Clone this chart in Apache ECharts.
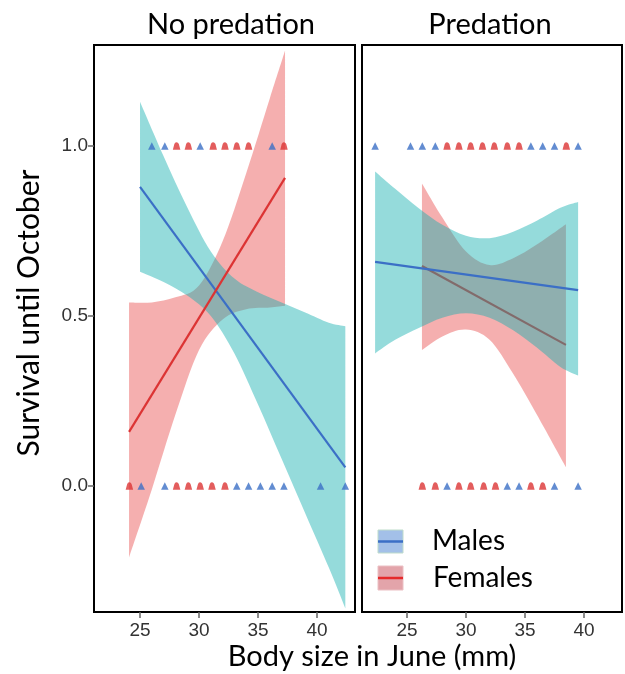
<!DOCTYPE html>
<html><head><meta charset="utf-8">
<script src="https://cdn.jsdelivr.net/npm/echarts@6/dist/echarts.min.js"></script>
<style>html,body{margin:0;padding:0;background:#fff}#c{width:625px;height:674px}</style>
</head><body><div id="c"></div>
<script>
// ---- Data ----
const panels = ['No predation', 'Predation'];
const xTicks = [25, 30, 35, 40];
const yTicks = [0, 0.5, 1.0];
const legendNames = ['Males', 'Females'];
const xTitle = 'Body size in June (mm)';
const yTitle = 'Survival until October';

// individual observations (survived = 1, died = 0)
const npMaleAlive = [26.0, 27.1, 30.1, 36.2];
const npFemaleAlive = [28.1, 29.1, 31.2, 32.2, 33.2, 34.2, 37.2];
const npMaleDead = [25.1, 27.1, 33.2, 34.2, 35.2, 36.2, 37.2, 40.3, 42.4];
const npFemaleDead = [24.1, 28.1, 29.1, 30.1, 31.1, 32.2];

const pMaleAlive = [22.3, 25.3, 26.3, 27.4, 35.5, 36.5, 37.5, 39.5];
const pFemaleAlive = [28.4, 29.4, 30.4, 31.4, 32.4, 33.5, 34.5, 38.5];
const pMaleDead = [28.4, 33.5, 34.5, 37.5, 39.5];
const pFemaleDead = [26.3, 27.4, 29.4, 30.4, 31.5, 32.5, 35.5, 36.5];

// fitted lines
const npMaleLine = [[25.0, 0.88], [42.4, 0.055]];
const npFemaleLine = [[24.07, 0.159], [37.29, 0.906]];
const pMaleLine = [[22.3, 0.659], [39.5, 0.576]];
const pFemaleLine = [[26.27, 0.647], [38.47, 0.415]];

// confidence bands
const npMaleBandX = [25, 27, 29, 31, 33, 35, 37, 39, 41, 42.4];
const npMaleBandLo = [0.63, 0.60, 0.56, 0.50, 0.39, 0.24, 0.08, -0.08, -0.24, -0.36];
const npMaleBandHi = [1.13, 0.97, 0.82, 0.69, 0.61, 0.57, 0.54, 0.51, 0.48, 0.47];

const npFemaleBandX = [24.07, 26, 28, 30, 32, 34, 36, 37.29];
const npFemaleBandLo = [-0.21, -0.01, 0.21, 0.40, 0.49, 0.52, 0.525, 0.53];
const npFemaleBandHi = [0.54, 0.54, 0.555, 0.59, 0.72, 0.92, 1.14, 1.28];

const pMaleBandX = [22.3, 24, 26, 28, 30, 32, 34, 36, 38, 39.5];
const pMaleBandLo = [0.39, 0.43, 0.465, 0.495, 0.508, 0.495, 0.458, 0.407, 0.35, 0.325];
const pMaleBandHi = [0.925, 0.874, 0.817, 0.768, 0.736, 0.729, 0.748, 0.78, 0.818, 0.835];

const pFemaleBandX = [26.27, 28, 30, 32, 34, 36, 38.47];
const pFemaleBandLo = [0.40, 0.44, 0.46, 0.43, 0.33, 0.21, 0.055];
const pFemaleBandHi = [0.89, 0.79, 0.69, 0.65, 0.67, 0.71, 0.77];

// ---- Styles ----
const MALE = '#3B6FC6', FEMALE = '#DC3434';
const MALE_BAND = 'rgba(20,175,175,0.45)', FEMALE_BAND = 'rgba(235,95,95,0.5)';
const FONT = 'Lato, "Open Sans", sans-serif';
const DOME = 'path://M0,10 L2,3.8 A3.2,3.2 0 0 1 8,3.8 L10,10 Z';

function band(xs, lo, hi, color, idx, z) {
  return {
    type: 'custom', xAxisIndex: idx, yAxisIndex: idx, z: z, silent: true,
    data: xs.map((x, i) => [x, lo[i], hi[i]]),
    encode: { x: 0, y: [1, 2] },
    renderItem: function (params, api) {
      if (params.dataIndex !== 0) return;
      const up = [], dn = [];
      for (let i = 0; i < xs.length; i++) up.push(api.coord([xs[i], hi[i]]));
      for (let i = xs.length - 1; i >= 0; i--) dn.push(api.coord([xs[i], lo[i]]));
      const cs = params.coordSys;
      const curve = (p, first) => {
        let s = (first ? 'M' : 'L') + p[0][0] + ',' + p[0][1];
        for (let i = 0; i < p.length - 1; i++) {
          const p0 = p[i - 1] || p[i], p1 = p[i], p2 = p[i + 1], p3 = p[i + 2] || p[i + 1];
          const c1 = [p1[0] + (p2[0] - p0[0]) / 6, p1[1] + (p2[1] - p0[1]) / 6];
          const c2 = [p2[0] - (p3[0] - p1[0]) / 6, p2[1] - (p3[1] - p1[1]) / 6];
          s += 'C' + c1[0] + ',' + c1[1] + ' ' + c2[0] + ',' + c2[1] + ' ' + p2[0] + ',' + p2[1];
        }
        return s;
      };
      const d = curve(up, true) + curve(dn, false) + 'Z';
      return {
        type: 'group',
        clipPath: { type: 'rect', shape: { x: cs.x, y: cs.y, width: cs.width, height: cs.height } },
        children: [{ type: 'path', shape: { pathData: d }, style: { fill: color } }]
      };
    }
  };
}
function line(data, color, idx, z) {
  return { type: 'line', xAxisIndex: idx, yAxisIndex: idx, data: data, showSymbol: false, z: z,
    lineStyle: { color: color, width: 2.2 }, silent: true };
}
function pts(xs, yv, sym, color, idx) {
  return { type: 'scatter', xAxisIndex: idx, yAxisIndex: idx, data: xs.map(x => [x, yv]),
    symbol: sym, symbolSize: 7.5, itemStyle: { color: color }, z: 10, silent: true };
}
function xAxis(idx, min) {
  return { type: 'value', gridIndex: idx, min: min, max: 43.22, position: 'bottom',
    axisLine: { show: false, onZero: false }, splitLine: { show: false },
    axisTick: { show: true, customValues: xTicks, length: 6, lineStyle: { color: '#666', width: 1.5 } },
    axisLabel: { customValues: xTicks, fontSize: 19, color: '#333', fontFamily: '"Liberation Sans", Arial', margin: 9 } };
}
function yAxis(idx) {
  return { type: 'value', gridIndex: idx, min: -0.3706, max: 1.297, position: 'left',
    axisLine: { show: false, onZero: false }, splitLine: { show: false },
    axisTick: { show: idx === 0, customValues: yTicks, length: 6, lineStyle: { color: '#666', width: 1.5 } },
    axisLabel: { show: idx === 0, customValues: yTicks, fontSize: 19, color: '#333',
      fontFamily: '"Liberation Sans", Arial', margin: 6, formatter: v => v.toFixed(1) } };
}

const chart = echarts.init(document.getElementById('c'), null, { renderer: 'canvas' });
chart.setOption({
  animation: false,
  backgroundColor: '#fff',
  grid: [
    { left: 94, top: 45, width: 261, height: 567, show: true, borderColor: '#000', borderWidth: 2 },
    { left: 362, top: 45, width: 260, height: 567, show: true, borderColor: '#000', borderWidth: 2 }
  ],
  xAxis: [xAxis(0, 21.1), xAxis(1, 21.19)],
  yAxis: [yAxis(0), yAxis(1)],
  series: [
    band(npFemaleBandX, npFemaleBandLo, npFemaleBandHi, FEMALE_BAND, 0, 1),
    band(npMaleBandX, npMaleBandLo, npMaleBandHi, MALE_BAND, 0, 2),
    line(npMaleLine, MALE, 0, 5),
    line(npFemaleLine, FEMALE, 0, 5),
    pts(npMaleAlive, 1, 'triangle', MALE, 0),
    pts(npMaleDead, 0, 'triangle', MALE, 0),
    pts(npFemaleAlive, 1, DOME, FEMALE, 0),
    pts(npFemaleDead, 0, DOME, FEMALE, 0),

    band(pFemaleBandX, pFemaleBandLo, pFemaleBandHi, FEMALE_BAND, 1, 1),
    line(pFemaleLine, FEMALE, 1, 2),
    band(pMaleBandX, pMaleBandLo, pMaleBandHi, MALE_BAND, 1, 3),
    line(pMaleLine, MALE, 1, 5),
    pts(pMaleAlive, 1, 'triangle', MALE, 1),
    pts(pMaleDead, 0, 'triangle', MALE, 1),
    pts(pFemaleAlive, 1, DOME, FEMALE, 1),
    pts(pFemaleDead, 0, DOME, FEMALE, 1)
  ],
  graphic: [
    { type: 'text', x: 231, y: 25, style: { text: panels[0], font: '29px ' + FONT, fill: '#000', align: 'center', verticalAlign: 'middle' } },
    { type: 'text', x: 490, y: 25, style: { text: panels[1], font: '29px ' + FONT, fill: '#000', align: 'center', verticalAlign: 'middle' } },
    { type: 'text', x: 372, y: 657, style: { text: xTitle, font: '29px ' + FONT, fill: '#000', align: 'center', verticalAlign: 'middle' } },
    { type: 'text', x: 29, y: 313, rotation: Math.PI / 2, style: { text: yTitle, font: '30px ' + FONT, fill: '#000', align: 'center', verticalAlign: 'middle' } },
    { type: 'rect', shape: { x: 378, y: 530, width: 25, height: 23 }, style: { fill: '#A3C0E8', stroke: '#BFDCCB', lineWidth: 1 }, z: 20 },
    { type: 'line', shape: { x1: 378, y1: 541.5, x2: 403, y2: 541.5 }, style: { stroke: MALE, lineWidth: 2.5 }, z: 21 },
    { type: 'rect', shape: { x: 378, y: 566, width: 25, height: 24 }, style: { fill: '#E3A4AA', stroke: '#EBC0C4', lineWidth: 1 }, z: 20 },
    { type: 'line', shape: { x1: 378, y1: 578, x2: 403, y2: 578 }, style: { stroke: '#E52A2A', lineWidth: 2.5 }, z: 21 },
    { type: 'text', x: 432, y: 541, style: { text: legendNames[0], font: '28px ' + FONT, fill: '#000', verticalAlign: 'middle' }, z: 21 },
    { type: 'text', x: 433, y: 578, style: { text: legendNames[1], font: '28px ' + FONT, fill: '#000', verticalAlign: 'middle' }, z: 21 }
  ]
});
</script></body></html>
